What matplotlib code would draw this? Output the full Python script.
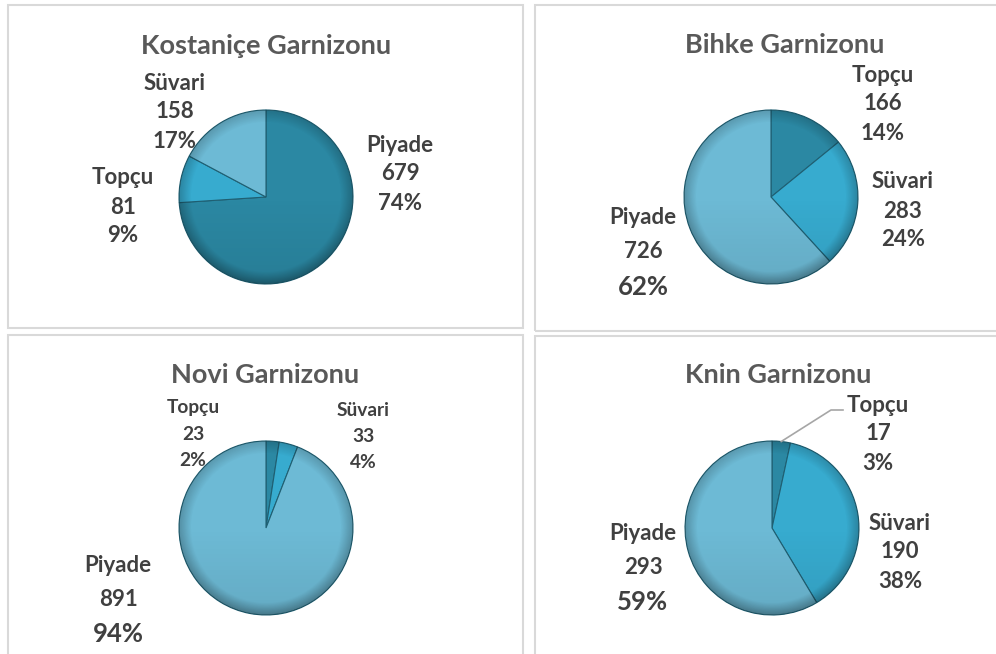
import numpy as np
import matplotlib.pyplot as plt
from matplotlib.patches import Rectangle, Circle

plt.rcParams['font.family'] = ['Lato', 'DejaVu Sans']

W, H = 996, 654

# ---------data
titles = ['Kostaniçe Garnizonu', 'Bihke Garnizonu', 'Novi Garnizonu', 'Knin Garnizonu']

kost_labels = ['Piyade', 'Topçu', 'Süvari']
kost_values = [679, 81, 158]
kost_pcts = ['74%', '9%', '17%']

bihke_labels = ['Topçu', 'Süvari', 'Piyade']
bihke_values = [166, 283, 726]
bihke_pcts = ['14%', '24%', '62%']

novi_labels = ['Topçu', 'Süvari', 'Piyade']
novi_values = [23, 33, 891]
novi_pcts = ['2%', '4%', '94%']

knin_labels = ['Topçu', 'Süvari', 'Piyade']
knin_values = [17, 190, 293]
knin_pcts = ['3%', '38%', '59%']

# colours by slice order (first dark, second medium, third light)
colors = ['#2B88A3', '#37ABCF', '#6DBAD5']

# ---------layout (pixels, y measured from top)
boxes = [(8, 5, 523, 328), (535, 5, 1000, 331), (8, 335, 523, 660), (535, 336, 1000, 660)]
centers = [(266, 197), (771, 197), (266, 528), (772, 528)]
radius = 87
title_pos = [(266, 46), (785, 45), (265, 375), (778, 375)]
# label block centres (x, y of first line) per slice
label_pos = [
    [(400, 145), (123, 178), (175, 83)],
    [(883, 75), (903, 182), (643, 218)],
    [(193, 408), (363, 410), (118, 565)],
    [(878, 405), (900, 523), (643, 533)],
]
big_pct = [False, True, True, True]  # last slice percentage drawn larger
small_slices = [[], [], [0, 1], []]  # labels drawn in a smaller font

panels = [
    (kost_labels, kost_values, kost_pcts),
    (bihke_labels, bihke_values, bihke_pcts),
    (novi_labels, novi_values, novi_pcts),
    (knin_labels, knin_values, knin_pcts),
]

fig = plt.figure(figsize=(W / 100, H / 100), dpi=100)
ax = fig.add_axes([0, 0, 1, 1])

for x0, y0, x1, y1 in boxes:
    ax.add_patch(Rectangle((x0, H - y1), x1 - x0, y1 - y0, fill=False,
                           edgecolor='#D9D9D9', linewidth=1.5))

# rim shading to mimic the bevelled look
n = 200
u, v = np.meshgrid(np.linspace(-1, 1, n), np.linspace(1, -1, n))
r = np.sqrt(u**2 + v**2)
shade = np.zeros((n, n, 4))
rim = np.clip((r - 0.86) / 0.14, 0, 1)
shade[..., 3] = 0.28 * rim * (0.6 + 0.4 * (-v + 1) / 2) + 0.08 * np.clip(-v, 0, 1) * (r < 1)

tcol = '#404040'
wedge_sets = []
for p, (labels, values, pcts) in enumerate(panels):
    cx, cy = centers[p]
    wedges, _ = ax.pie(values, colors=colors, startangle=90, counterclock=False,
                       center=(cx, H - cy), radius=radius, frame=True,
                       wedgeprops=dict(edgecolor='#1F5F72', linewidth=0.8))
    wedge_sets.append(wedges)
    im = ax.imshow(shade, extent=(cx - radius, cx + radius, H - cy - radius, H - cy + radius),
                   zorder=wedges[0].get_zorder() + 0.1, interpolation='bilinear')
    clip = Circle((cx, H - cy), radius, transform=ax.transData)
    im.set_clip_path(clip)

    ax.text(title_pos[p][0], H - title_pos[p][1], titles[p], ha='center', va='center',
            fontsize=19.5, fontweight='bold', color='#595959')
    for i in range(len(values)):
        small = i in small_slices[p]
        fs = 13.8 if small else 16
        step = 26 if small else 29
        lx, ly = label_pos[p][i]
        last = big_pct[p] and i == len(values) - 1
        if last:
            step = 34
        ax.text(lx, H - ly, labels[i], ha='center', va='center', fontsize=fs,
                fontweight='bold', color=tcol)
        ax.text(lx, H - ly - step, str(values[i]), ha='center', va='center', fontsize=fs,
                fontweight='bold', color=tcol)
        ax.text(lx, H - ly - 2 * step - (1 if last else 0), pcts[i], ha='center', va='center',
                fontsize=18.5 if last else fs, fontweight='bold', color=tcol)

# leader line for the thin Knin Topçu slice
w = wedge_sets[3][0]
ang = np.deg2rad((w.theta1 + w.theta2) / 2)
cx, cy = centers[3]
sx, sy = cx + radius * np.cos(ang), H - cy + radius * np.sin(ang)
ax.plot([sx, 831, 843], [sy, H - 410, H - 410], color='#A6A6A6', linewidth=1.2)

ax.set_xlim(0, W)
ax.set_ylim(0, H)
ax.set_aspect('equal')
ax.axis('off')

fig.savefig('out.png', dpi=100)
